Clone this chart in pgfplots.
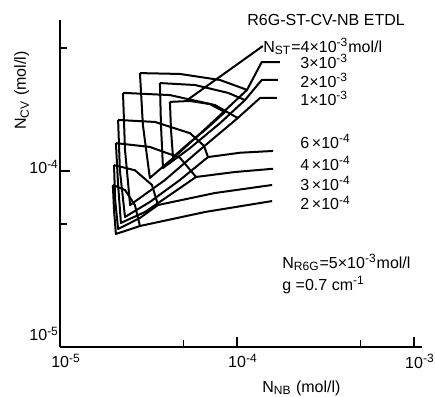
\documentclass[border=0pt]{standalone}
\usepackage{fontspec}
\setmainfont{Liberation Sans}
\usepackage{pgfplots}
\pgfplotsset{compat=1.18}
\begin{document}
\begin{tikzpicture}[curve/.style={black,solid,line width=1pt,line join=round,mark=none}]
\begin{axis}[
  name=ax,
  scale only axis, width=181pt, height=163.5pt,
  xmode=log, ymode=log,
  xmin=1e-5, xmax=1.11e-3, ymin=1e-5, ymax=7.21e-4,
  axis x line*=bottom, axis y line*=left,
  axis line style={line width=0.8pt,-},
  tick align=inside,
  xtick={1e-5,1e-4,1e-3},
  xticklabels={10\textsuperscript{-5},10\textsuperscript{-4},10\textsuperscript{-3}},
  ytick={1e-5,1e-4},
  yticklabels={\raisebox{9pt}{10\textsuperscript{-5}},10\textsuperscript{-4}},
  minor xtick={5e-5,5e-4}, minor ytick={5e-5,5e-4},
  major tick length=5pt, minor tick length=3.5pt,
  tick style={black,line width=0.8pt},
  every tick label/.append style={font=\fontsize{8}{9}\selectfont},
  y tick label style={yshift=2pt,xshift=3pt},
  x tick label style={xshift=3pt},
  clip=false,
]
% N_ST = 4e-3
\addplot[curve] coordinates {(4.18e-5,2.47e-4) (5.43e-5,2.50e-4) (7.04e-5,2.40e-4) (8.55e-5,2.16e-4) (6.60e-5,1.71e-4) (5.22e-5,1.41e-4) (4.35e-5,1.20e-4) (4.24e-5,1.71e-4) (4.18e-5,2.47e-4)};
\addplot[curve] coordinates {(5.15e-5,2.50e-4) (1.40e-4,5.13e-4)};
% N_ST = 3e-3
\addplot[curve] coordinates {(2.83e-5,3.60e-4) (4.76e-5,3.56e-4) (8.02e-5,3.29e-4) (1.14e-4,2.89e-4) (7.51e-5,1.95e-4) (4.76e-5,1.28e-4) (3.22e-5,9.13e-5) (2.94e-5,1.83e-4) (2.83e-5,3.60e-4)};
\addplot[curve] coordinates {(1.14e-4,2.89e-4) (1.38e-4,4.16e-4) (1.75e-4,4.16e-4)};
% N_ST = 2e-3
\addplot[curve] coordinates {(3.67e-5,3.16e-4) (5.79e-5,3.08e-4) (8.90e-5,2.78e-4) (1.11e-4,2.53e-4) (8.02e-5,1.87e-4) (5.43e-5,1.35e-4) (3.82e-5,1.04e-4) (3.72e-5,1.83e-4) (3.67e-5,3.16e-4)};
\addplot[curve] coordinates {(1.11e-4,2.53e-4) (1.38e-4,3.29e-4) (1.70e-4,3.29e-4)};
% N_ST = 1e-3
\addplot[curve] coordinates {(2.27e-5,2.78e-4) (4.18e-5,2.70e-4) (7.51e-5,2.37e-4) (1.01e-4,2.00e-4) (6.18e-5,1.32e-4) (3.92e-5,8.89e-5) (2.49e-5,6.41e-5) (2.33e-5,1.32e-4) (2.27e-5,2.78e-4)};
\addplot[curve] coordinates {(1.01e-4,2.00e-4) (1.35e-4,2.60e-4) (1.68e-4,2.60e-4)};
% N_ST = 6e-4
\addplot[curve] coordinates {(2.13e-5,1.95e-4) (3.44e-5,1.90e-4) (5.43e-5,1.64e-4) (6.51e-5,1.39e-4) (6.86e-5,1.20e-4) (4.76e-5,8.89e-5) (3.22e-5,6.67e-5) (2.33e-5,5.48e-5) (2.18e-5,1.01e-4) (2.13e-5,1.95e-4)};
\addplot[curve] coordinates {(6.86e-5,1.20e-4) (1.04e-4,1.27e-4) (1.60e-4,1.30e-4)};
% N_ST = 4e-4
\addplot[curve] coordinates {(2.07e-5,1.44e-4) (3.22e-5,1.37e-4) (4.76e-5,1.19e-4) (5.87e-5,9.25e-5) (4.18e-5,7.31e-5) (3.02e-5,5.85e-5) (2.21e-5,5.07e-5) (2.13e-5,8.33e-5) (2.07e-5,1.44e-4)};
\addplot[curve] coordinates {(5.87e-5,9.25e-5) (9.74e-5,9.87e-5) (1.60e-4,1.03e-4)};
% N_ST = 3e-4
\addplot[curve] coordinates {(2.02e-5,1.08e-4) (2.65e-5,1.01e-4) (3.31e-5,8.33e-5) (3.58e-5,6.41e-5) (2.83e-5,5.41e-5) (2.13e-5,4.68e-5) (2.05e-5,6.84e-5) (2.02e-5,1.08e-4)};
\addplot[curve] coordinates {(3.58e-5,6.41e-5) (7.51e-5,7.50e-5) (1.58e-4,8.33e-5)};
% N_ST = 2e-4
\addplot[curve] coordinates {(1.99e-5,8.33e-5) (2.33e-5,7.80e-5) (2.65e-5,6.41e-5) (2.83e-5,4.87e-5) (2.42e-5,4.62e-5) (2.07e-5,4.39e-5) (2.02e-5,6.00e-5) (1.99e-5,8.33e-5)};
\addplot[curve] coordinates {(2.83e-5,4.87e-5) (6.60e-5,5.85e-5) (1.58e-4,6.75e-5)};

\begin{scope}[every node/.style={font=\fontsize{8}{9}\selectfont,inner sep=0pt,anchor=base west}]
\node at (rel axis cs:0.5166,0.9847) {R6G-ST-CV-NB ETDL};
\node at (rel axis cs:0.5608,0.9021) {N\textsubscript{ST}=4×10\textsuperscript{-3}mol/l};
\node at (rel axis cs:0.6630,0.8532) {3×10\textsuperscript{-3}};
\node at (rel axis cs:0.6630,0.7951) {2×10\textsuperscript{-3}};
\node at (rel axis cs:0.6630,0.7401) {1×10\textsuperscript{-3}};
\node at (rel axis cs:0.6630,0.6086) {6\,×10\textsuperscript{-4}};
\node at (rel axis cs:0.6630,0.5413) {4\,×10\textsuperscript{-4}};
\node at (rel axis cs:0.6630,0.4801) {3\,×10\textsuperscript{-4}};
\node at (rel axis cs:0.6630,0.4190) {2\,×10\textsuperscript{-4}};
\node at (rel axis cs:0.6133,0.2416) {N\textsubscript{R6G}=5×10\textsuperscript{-3}mol/l};
\node at (rel axis cs:0.6133,0.1743) {g =0.7 cm\textsuperscript{-1}};
\node at (rel axis cs:0.558,-0.1376) {N\textsubscript{NB} (mol/l)};
\node[rotate=90] at (rel axis cs:-0.0939,0.6636) {N\textsubscript{CV} (mol/l)};
\end{scope}
\end{axis}
\pgfresetboundingbox
\path[use as bounding box] ([xshift=-30pt,yshift=-25pt]ax.south west) rectangle ([xshift=187.5pt,yshift=173.5pt]ax.south west);
\end{tikzpicture}
\end{document}
